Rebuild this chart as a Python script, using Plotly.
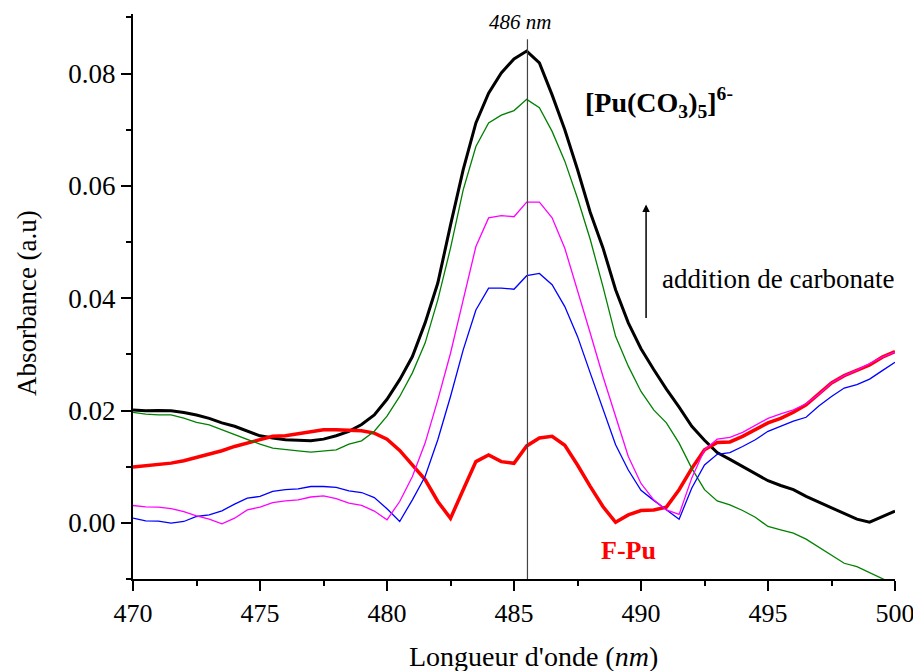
import plotly.graph_objects as go

wavelength = [470.0, 470.5, 471.0, 471.5, 472.0, 472.5, 473.0, 473.5, 474.0, 474.5,
              475.0, 475.5, 476.0, 476.5, 477.0, 477.5, 478.0, 478.5, 479.0, 479.5,
              480.0, 480.5, 481.0, 481.5, 482.0, 482.5, 483.0, 483.5, 484.0, 484.5,
              485.0, 485.5, 486.0, 486.5, 487.0, 487.5, 488.0, 488.5, 489.0, 489.5,
              490.0, 490.5, 491.0, 491.5, 492.0, 492.5, 493.0, 493.5, 494.0, 494.5,
              495.0, 495.5, 496.0, 496.5, 497.0, 497.5, 498.0, 498.5, 499.0, 499.5,
              500.0]

pu_co3_black = [0.0201, 0.01995, 0.0200, 0.01995, 0.01966, 0.0192, 0.0186, 0.0178, 0.0172, 0.0163,
                0.0155, 0.0151, 0.0148, 0.0147, 0.0146, 0.0149, 0.0155, 0.0163, 0.0175, 0.0192,
                0.0220,
                0.0255, 0.0296, 0.0356, 0.0427, 0.0530, 0.0629, 0.0712, 0.0765, 0.0801, 0.0826,
                0.0840, 0.0819, 0.0762, 0.0700, 0.0629, 0.0553, 0.0490, 0.0415, 0.0356, 0.0310,
                0.0273, 0.0238, 0.0206, 0.0172, 0.0147, 0.0125, 0.0113, 0.0100, 0.0087, 0.0075,
                0.00665, 0.0059, 0.0047, 0.0037, 0.0027, 0.0016, 0.00065, 0.00012, 0.00107, 0.0021]

step3_green = [0.01966, 0.01936, 0.01924, 0.01924, 0.01865, 0.01787, 0.01746, 0.01657, 0.01568, 0.01479,
               0.0140, 0.0133, 0.0130, 0.01283, 0.0126, 0.01283, 0.0130, 0.0140, 0.0146, 0.0163,
               0.0190,
               0.0225, 0.0267, 0.0320, 0.0397, 0.0489, 0.0593, 0.0670, 0.0712, 0.0726, 0.0734,
               0.0754, 0.0739, 0.0697, 0.0644, 0.0578, 0.0505, 0.0421, 0.0332, 0.0279, 0.0234,
               0.0201, 0.0178, 0.0142, 0.0097, 0.0059, 0.0039, 0.0032, 0.0022, 0.0010, -0.00065,
               -0.00125, -0.00184, -0.0029, -0.0043, -0.0057, -0.0072, -0.0078, -0.00885, -0.0100, -0.0110]

f_pu_red = [0.00992, 0.01015, 0.01045, 0.01063, 0.01105, 0.01164, 0.0121, 0.01283, 0.0136, 0.0142,
            0.0148, 0.0154, 0.0155, 0.01586, 0.01627, 0.01657, 0.01657, 0.01645, 0.0164, 0.01597,
            0.0149,
            0.0129, 0.0102, 0.0077, 0.0038, 0.0008, 0.0059, 0.0109, 0.0121, 0.0109, 0.0106,
            0.0137, 0.0151, 0.0154, 0.0138, 0.0103, 0.0065, 0.0029, 0.0001, 0.0014, 0.0022,
            0.0023, 0.0028, 0.0059, 0.0097, 0.0130, 0.0143, 0.0144, 0.0154, 0.0166, 0.0178,
            0.0186, 0.0197, 0.0210, 0.0229, 0.0249, 0.0262, 0.0271, 0.0281, 0.0295, 0.0305]

step1_blue = [0.00083, 0.00036, 0.0003, -0.00006, 0.00024, 0.00113, 0.00143, 0.00214, 0.00333, 0.0044,
              0.0047, 0.0056, 0.0059, 0.00606, 0.00647, 0.00647, 0.0063, 0.0057, 0.0054, 0.0045,
              0.0025,
              0.00024, 0.0041, 0.00825, 0.0148, 0.0225, 0.0308, 0.0379, 0.0418, 0.0418, 0.0416,
              0.0440, 0.0444, 0.0424, 0.0385, 0.0332, 0.0267, 0.0201, 0.0139, 0.0094, 0.0058,
              0.0040, 0.0024, 0.00065, 0.0062, 0.0103, 0.0122, 0.0125, 0.0136, 0.0148, 0.0163,
              0.0172, 0.0181, 0.0188, 0.0208, 0.0225, 0.0240, 0.0246, 0.0256, 0.0271, 0.0286]

step2_magenta = [0.00309, 0.00285, 0.00279, 0.00255, 0.0020, 0.00125, 0.00065, -0.00018, 0.00083, 0.0023,
                 0.0028, 0.0036, 0.0039, 0.0041, 0.0046, 0.0048, 0.0043, 0.0035, 0.0031, 0.0021,
                 0.00053,
                 0.0038, 0.00825, 0.0142, 0.0219, 0.0302, 0.0397, 0.0492, 0.0543, 0.0547, 0.0545,
                 0.0571, 0.0571, 0.0543, 0.0489, 0.0415, 0.0338, 0.0261, 0.0189, 0.0118, 0.0070,
                 0.0041, 0.0023, 0.0015, 0.0080, 0.0130, 0.0149, 0.0152, 0.0161, 0.0173, 0.0186,
                 0.0194, 0.0201, 0.0212, 0.0229, 0.0249, 0.0262, 0.0272, 0.0283, 0.0295, 0.0304]

peak_wavelength = 485.53
x_ticks = [470, 475, 480, 485, 490, 495, 500]
y_ticks = [0.00, 0.02, 0.04, 0.06, 0.08]

FONT = "Liberation Serif, Times New Roman, serif"

fig = go.Figure()

series = [
    (pu_co3_black, "#000000", 3.0),
    (f_pu_red, "#FF0000", 3.5),
    (step3_green, "#008000", 1.3),
    (step1_blue, "#0000FF", 1.3),
    (step2_magenta, "#FF00FF", 1.3),
]
for vals, col, w in series:
    fig.add_trace(go.Scatter(x=wavelength, y=vals, mode="lines",
                             line=dict(color=col, width=w), showlegend=False,
                             hoverinfo="skip"))

fig.add_shape(type="line", x0=peak_wavelength, x1=peak_wavelength,
              y0=-0.01, y1=0.0861, xref="x", yref="y",
              line=dict(color="#444444", width=1.2))

fig.add_annotation(x=485.24, y=0.0891, xref="x", yref="y",
                   text="<i>486 nm</i>", showarrow=False,
                   font=dict(family=FONT, size=21, color="#000"))

fig.add_annotation(x=487.72, y=0.0748, xref="x", yref="y", xanchor="left",
                   text="<b>[Pu(CO<sub>3</sub>)<sub>5</sub>]<sup>6-</sup></b>",
                   showarrow=False, font=dict(family=FONT, size=28, color="#000"))

fig.add_annotation(x=490.2, y=0.0567, ax=490.2, ay=0.0362, xref="x", yref="y",
                   axref="x", ayref="y", text="", showarrow=True,
                   arrowhead=2, arrowsize=1, arrowwidth=1.5, arrowcolor="#000")

fig.add_annotation(x=490.75, y=0.0435, xref="x", yref="y", xanchor="left",
                   text="addition de carbonate", showarrow=False,
                   font=dict(family=FONT, size=27, color="#000"))

fig.add_annotation(x=489.5, y=-0.005, xref="x", yref="y",
                   text="<b>F-Pu</b>", showarrow=False,
                   font=dict(family=FONT, size=26, color="#FF0000"))

fig.add_annotation(x=0.525, y=-0.137, xref="paper", yref="paper",
                   xanchor="center", yanchor="middle",
                   text="Longueur d'onde (<i>nm</i>)", showarrow=False,
                   font=dict(family=FONT, size=28, color="#000"))

fig.add_annotation(x=-0.139, y=0.4885, xref="paper", yref="paper",
                   xanchor="center", yanchor="middle",
                   text="Absorbance (a.u)", showarrow=False, textangle=-90,
                   font=dict(family=FONT, size=27, color="#000"))

fig.update_layout(
    width=913, height=671,
    margin=dict(l=133, r=18, t=14, b=92, autoexpand=False),
    paper_bgcolor="white", plot_bgcolor="white",
    font=dict(family=FONT, size=27, color="#000"),
    xaxis=dict(range=[470, 500], tickvals=x_ticks, ticktext=[str(v) for v in x_ticks],
               showgrid=False, zeroline=False, showline=True, linecolor="#000",
               linewidth=2, ticks="outside", ticklen=10, tickwidth=2, tickcolor="#000",
               tickfont=dict(family=FONT, size=26), ticklabeloverflow="allow",
               minor=dict(dtick=2.5, tick0=470, ticks="outside", ticklen=5,
                          tickwidth=2, tickcolor="#000", showgrid=False)),
    yaxis=dict(range=[-0.01, 0.0906], tickvals=y_ticks,
               ticktext=["%.2f" % v for v in y_ticks],
               showgrid=False, zeroline=False, showline=True, linecolor="#000",
               linewidth=2, ticks="outside", ticklen=10, tickwidth=2, tickcolor="#000",
               tickfont=dict(family=FONT, size=27),
               minor=dict(dtick=0.01, tick0=0, ticks="outside", ticklen=5,
                          tickwidth=2, tickcolor="#000", showgrid=False)),
)

fig.write_html("out.html", config={"displayModeBar": False},
               post_script="document.body.style.margin='0';document.body.style.overflow='hidden';")
